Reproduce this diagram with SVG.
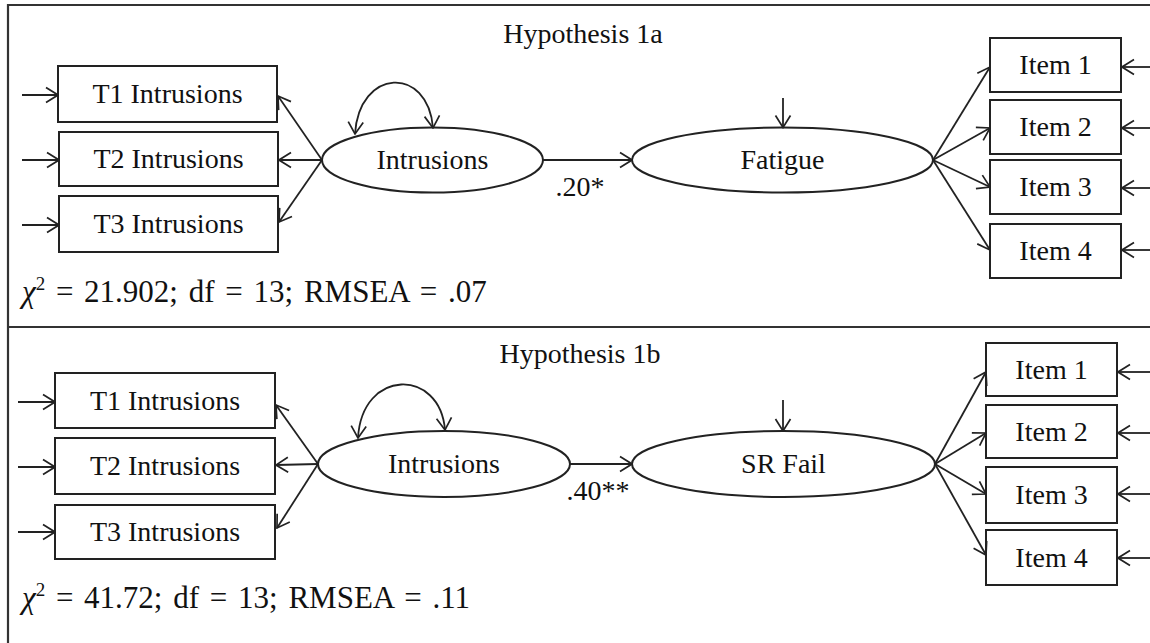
<svg xmlns="http://www.w3.org/2000/svg" width="1150" height="643" viewBox="0 0 1150 643" font-family="'Liberation Serif', 'DejaVu Serif', serif">
<style>
  text { font-family: 'Liberation Serif', 'DejaVu Serif', serif; fill: #111; }
  .lbl { font-size: 28px; text-anchor: middle; }
  .stat { font-size: 31px; word-spacing: 3px; }
  .box { fill: #fff; stroke: #222; stroke-width: 2; }
  .ell { fill: #fff; stroke: #222; stroke-width: 2; }
  .con { fill: none; stroke: #222; stroke-width: 1.8; marker-end: url(#ah); }
  .frame { fill: none; stroke: #333; stroke-width: 2.2; }
</style>
<defs>
  <marker id="ah" viewBox="0 0 14 18" refX="13" refY="9" markerWidth="14" markerHeight="18" orient="auto-start-reverse" markerUnits="userSpaceOnUse">
    <path d="M1,1.5 L13,9 L1,16.5" fill="none" stroke="#222" stroke-width="1.7"/>
  </marker>
</defs>
<rect width="1150" height="643" fill="#fff"/>

<g id="frame">
  <line class="frame" x1="8" y1="5" x2="1150" y2="5"/>
  <line class="frame" x1="8" y1="4" x2="8" y2="643"/>
  <line class="frame" x1="8" y1="327" x2="1150" y2="327"/>
</g>

<g id="titles">
  <text class="lbl" x="583" y="43">Hypothesis 1a</text>
  <text class="lbl" x="580" y="363">Hypothesis 1b</text>
</g>

<!-- Panel A nodes -->
<g id="a-t1"><rect class="box" x="58" y="66" width="219" height="56"/><text class="lbl" x="167.5" y="103">T1 Intrusions</text></g>
<g id="a-t2"><rect class="box" x="59" y="132" width="219" height="54"/><text class="lbl" x="168.5" y="168">T2 Intrusions</text></g>
<g id="a-t3"><rect class="box" x="59" y="196" width="219" height="56"/><text class="lbl" x="168.5" y="233">T3 Intrusions</text></g>
<g id="a-intr"><ellipse class="ell" cx="432.5" cy="160" rx="110.5" ry="32.5"/><text class="lbl" x="432.5" y="169">Intrusions</text></g>
<g id="a-fat"><ellipse class="ell" cx="782.5" cy="160" rx="150.5" ry="32.5"/><text class="lbl" x="782.5" y="169">Fatigue</text></g>
<g id="a-i1"><rect class="box" x="990" y="38" width="131" height="54"/><text class="lbl" x="1055.5" y="74">Item 1</text></g>
<g id="a-i2"><rect class="box" x="990" y="100" width="131" height="54"/><text class="lbl" x="1055.5" y="136">Item 2</text></g>
<g id="a-i3"><rect class="box" x="990" y="160" width="131" height="54"/><text class="lbl" x="1055.5" y="196">Item 3</text></g>
<g id="a-i4"><rect class="box" x="990" y="224" width="131" height="54"/><text class="lbl" x="1055.5" y="260">Item 4</text></g>
<g id="a-stat"><text class="stat" x="22" y="302"><tspan font-style="italic">χ</tspan><tspan font-size="19" dy="-12">2</tspan><tspan dy="12"> = 21.902; df = 13; RMSEA = .07</tspan></text></g>
<g id="a-coef"><text class="lbl" x="580" y="196">.20*</text></g>

<!-- Panel B nodes -->
<g id="b-t1"><rect class="box" x="55" y="373" width="220" height="55"/><text class="lbl" x="165" y="410">T1 Intrusions</text></g>
<g id="b-t2"><rect class="box" x="55" y="438" width="220" height="56"/><text class="lbl" x="165" y="475">T2 Intrusions</text></g>
<g id="b-t3"><rect class="box" x="55" y="505" width="220" height="54"/><text class="lbl" x="165" y="541">T3 Intrusions</text></g>
<g id="b-intr"><ellipse class="ell" cx="444" cy="464" rx="126" ry="33"/><text class="lbl" x="444" y="473">Intrusions</text></g>
<g id="b-sr"><ellipse class="ell" cx="783.5" cy="464" rx="151.5" ry="33"/><text class="lbl" x="783.5" y="473">SR Fail</text></g>
<g id="b-i1"><rect class="box" x="986" y="343" width="131" height="53"/><text class="lbl" x="1051.5" y="379">Item 1</text></g>
<g id="b-i2"><rect class="box" x="986" y="405" width="131" height="53"/><text class="lbl" x="1051.5" y="441">Item 2</text></g>
<g id="b-i3"><rect class="box" x="986" y="467" width="131" height="56"/><text class="lbl" x="1051.5" y="504">Item 3</text></g>
<g id="b-i4"><rect class="box" x="986" y="530" width="131" height="55"/><text class="lbl" x="1051.5" y="567">Item 4</text></g>
<g id="b-stat"><text class="stat" x="22" y="608"><tspan font-style="italic">χ</tspan><tspan font-size="19" dy="-12">2</tspan><tspan dy="12"> = 41.72; df = 13; RMSEA = .11</tspan></text></g>
<g id="b-coef"><text class="lbl" x="598" y="500">.40**</text></g>

<g id="connectors">
  <!-- Panel A -->
  <line class="con" x1="22" y1="95" x2="58" y2="95"/>
  <line class="con" x1="22" y1="160" x2="59" y2="160"/>
  <line class="con" x1="22" y1="225" x2="59" y2="225"/>
  <line class="con" x1="322" y1="160" x2="278" y2="96"/>
  <line class="con" x1="322" y1="160" x2="279" y2="160"/>
  <line class="con" x1="322" y1="160" x2="279" y2="222"/>
  <path class="con" style="marker-start:url(#ah)" d="M355,134 C359,68 428,65 433,128"/>
  <line class="con" x1="543" y1="160" x2="632" y2="160"/>
  <line class="con" x1="783" y1="98" x2="783" y2="127.5"/>
  <line class="con" x1="933" y1="160" x2="990" y2="67"/>
  <line class="con" x1="933" y1="160" x2="990" y2="128"/>
  <line class="con" x1="933" y1="160" x2="990" y2="187"/>
  <line class="con" x1="933" y1="160" x2="990" y2="250"/>
  <line class="con" x1="1150" y1="67" x2="1122" y2="67"/>
  <line class="con" x1="1150" y1="128" x2="1122" y2="128"/>
  <line class="con" x1="1150" y1="188" x2="1122" y2="188"/>
  <line class="con" x1="1150" y1="250" x2="1122" y2="250"/>
  <!-- Panel B -->
  <line class="con" x1="18" y1="402" x2="55" y2="402"/>
  <line class="con" x1="18" y1="467" x2="55" y2="467"/>
  <line class="con" x1="18" y1="532" x2="55" y2="532"/>
  <line class="con" x1="318" y1="464" x2="276" y2="405"/>
  <line class="con" x1="318" y1="464" x2="276" y2="465"/>
  <line class="con" x1="318" y1="464" x2="277" y2="528"/>
  <path class="con" style="marker-start:url(#ah)" d="M358,438 C362,368 440,368 445,430"/>
  <line class="con" x1="570" y1="464" x2="632" y2="464"/>
  <line class="con" x1="783" y1="400" x2="783" y2="431"/>
  <line class="con" x1="935" y1="464" x2="986" y2="372"/>
  <line class="con" x1="935" y1="464" x2="986" y2="433"/>
  <line class="con" x1="935" y1="464" x2="986" y2="494"/>
  <line class="con" x1="935" y1="464" x2="986" y2="555"/>
  <line class="con" x1="1150" y1="372" x2="1118" y2="372"/>
  <line class="con" x1="1150" y1="433" x2="1118" y2="433"/>
  <line class="con" x1="1150" y1="494" x2="1118" y2="494"/>
  <line class="con" x1="1150" y1="558" x2="1118" y2="558"/>
</g>
</svg>
